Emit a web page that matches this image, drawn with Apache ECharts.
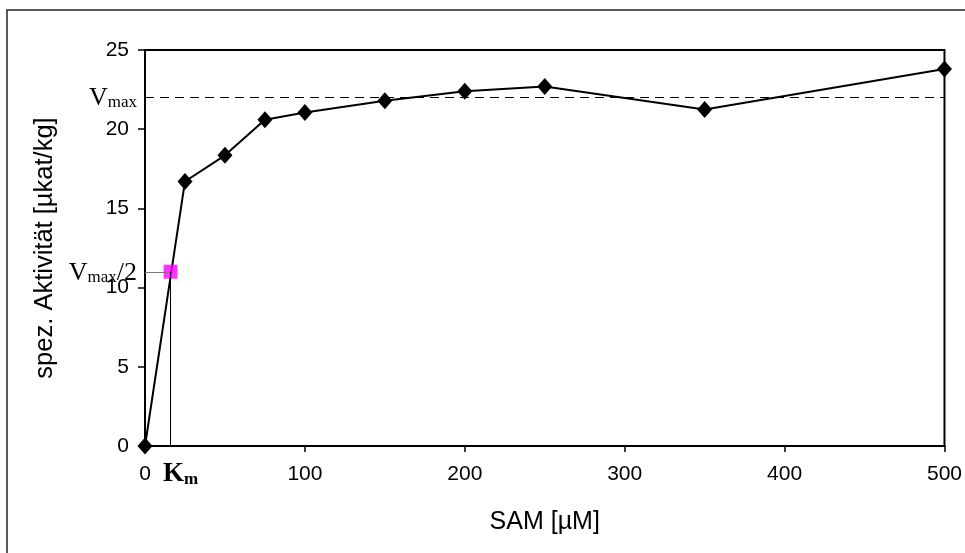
<!DOCTYPE html>
<html>
<head>
<meta charset="utf-8">
<script src="https://cdn.jsdelivr.net/npm/echarts@6/dist/echarts.min.js"></script>
<style>
  html, body { margin: 0; padding: 0; background: #fff; }
  #chart { width: 965px; height: 553px; }
</style>
</head>
<body>
<div id="chart"></div>
<script>
// SAM concentration [µM] and measured specific activity [µkat/kg]
const samConc = [0, 25, 50, 75, 100, 150, 200, 250, 350, 500];
const activity = [0, 16.7, 18.35, 20.6, 21.05, 21.8, 22.4, 22.7, 21.25, 23.8];

// Michaelis-Menten parameters
const vmax = 22;
const km = 16;

const xTicks = { min: 0, max: 500, interval: 100 };
const yTicks = { min: 0, max: 25, interval: 5 };

const sans = 'Liberation Sans, Arial, sans-serif';
const serif = 'Liberation Serif, Times New Roman, serif';

const subRich = {
  b: { fontFamily: serif, fontSize: 26, color: '#000', verticalAlign: 'bottom', lineHeight: 28 },
  s: { fontFamily: serif, fontSize: 17, color: '#000', verticalAlign: 'bottom', lineHeight: 21 },
  kb: { fontFamily: serif, fontSize: 27, fontWeight: 'bold', color: '#000', verticalAlign: 'bottom', lineHeight: 28 },
  ks: { fontFamily: serif, fontSize: 17, fontWeight: 'bold', color: '#000', verticalAlign: 'bottom', lineHeight: 21 }
};

const chart = echarts.init(document.getElementById('chart'), null, { renderer: 'canvas' });

chart.setOption({
  animation: false,
  backgroundColor: '#fff',
  graphic: [{
    type: 'rect',
    shape: { x: 7, y: 10, width: 1000, height: 1000 },
    style: { fill: 'none', stroke: '#222', lineWidth: 1.5 },
    silent: true
  }],
  grid: {
    left: 145, right: 17, top: 50, bottom: 107,
    show: true, borderColor: '#000', borderWidth: 2, backgroundColor: 'transparent'
  },
  xAxis: {
    type: 'value',
    min: xTicks.min, max: xTicks.max, interval: xTicks.interval,
    name: 'SAM [µM]',
    nameLocation: 'middle',
    nameGap: 64,
    nameTextStyle: { fontFamily: sans, fontSize: 25, color: '#000' },
    axisLine: { show: true, lineStyle: { color: '#000', width: 2 } },
    axisTick: { show: true, length: 6, lineStyle: { color: '#000', width: 1.5 } },
    axisLabel: { fontFamily: sans, fontSize: 21, color: '#000', margin: 18 },
    splitLine: { show: false }
  },
  yAxis: {
    type: 'value',
    min: yTicks.min, max: yTicks.max, interval: yTicks.interval,
    name: 'spez. Aktivität [µkat/kg]',
    nameLocation: 'middle',
    nameGap: 87,
    nameRotate: 90,
    nameTextStyle: { fontFamily: sans, fontSize: 25.5, color: '#000' },
    axisLine: { show: true, lineStyle: { color: '#000', width: 2 } },
    axisTick: { show: true, length: 7, lineStyle: { color: '#000', width: 1.5 } },
    axisLabel: { fontFamily: sans, fontSize: 21, color: '#000', margin: 16 },
    splitLine: { show: false }
  },
  series: [
    {
      // Vmax reference and the Km construction lines
      type: 'line',
      data: [],
      silent: true,
      markLine: {
        silent: true,
        symbol: 'none',
        animation: false,
        data: [
          [
            { coord: [0, vmax], lineStyle: { type: [9, 6], color: '#000', width: 1 },
              label: { show: true, position: 'start', distance: 8, formatter: '{b|V}{s|max}', rich: subRich } },
            { coord: [500, vmax] }
          ],
          [
            { coord: [0, vmax / 2], lineStyle: { type: 'solid', color: '#777', width: 1 },
              label: { show: true, position: 'start', distance: 8, formatter: '{b|V}{s|max}{b|/2}', rich: subRich } },
            { coord: [km, vmax / 2] }
          ],
          [
            { coord: [km, 0], lineStyle: { type: 'solid', color: '#000', width: 1 },
              label: { show: true, position: 'start', distance: 14, padding: [0, 0, 0, 20],
                       formatter: '{kb|K}{ks|m}', rich: subRich } },
            { coord: [km, vmax / 2] }
          ]
        ]
      },
      z: 1
    },
    {
      type: 'line',
      data: samConc.map((x, i) => [x, activity[i]]),
      lineStyle: { color: '#000', width: 2 },
      itemStyle: { color: '#000' },
      symbol: 'diamond',
      symbolSize: [15, 17],
      showAllSymbol: true,
      clip: false,
      z: 3
    },
    {
      type: 'scatter',
      data: [[km, vmax / 2]],
      symbol: 'rect',
      symbolSize: 14,
      itemStyle: { color: '#ff00ff' },
      z: 4
    }
  ]
});
</script>
</body>
</html>
